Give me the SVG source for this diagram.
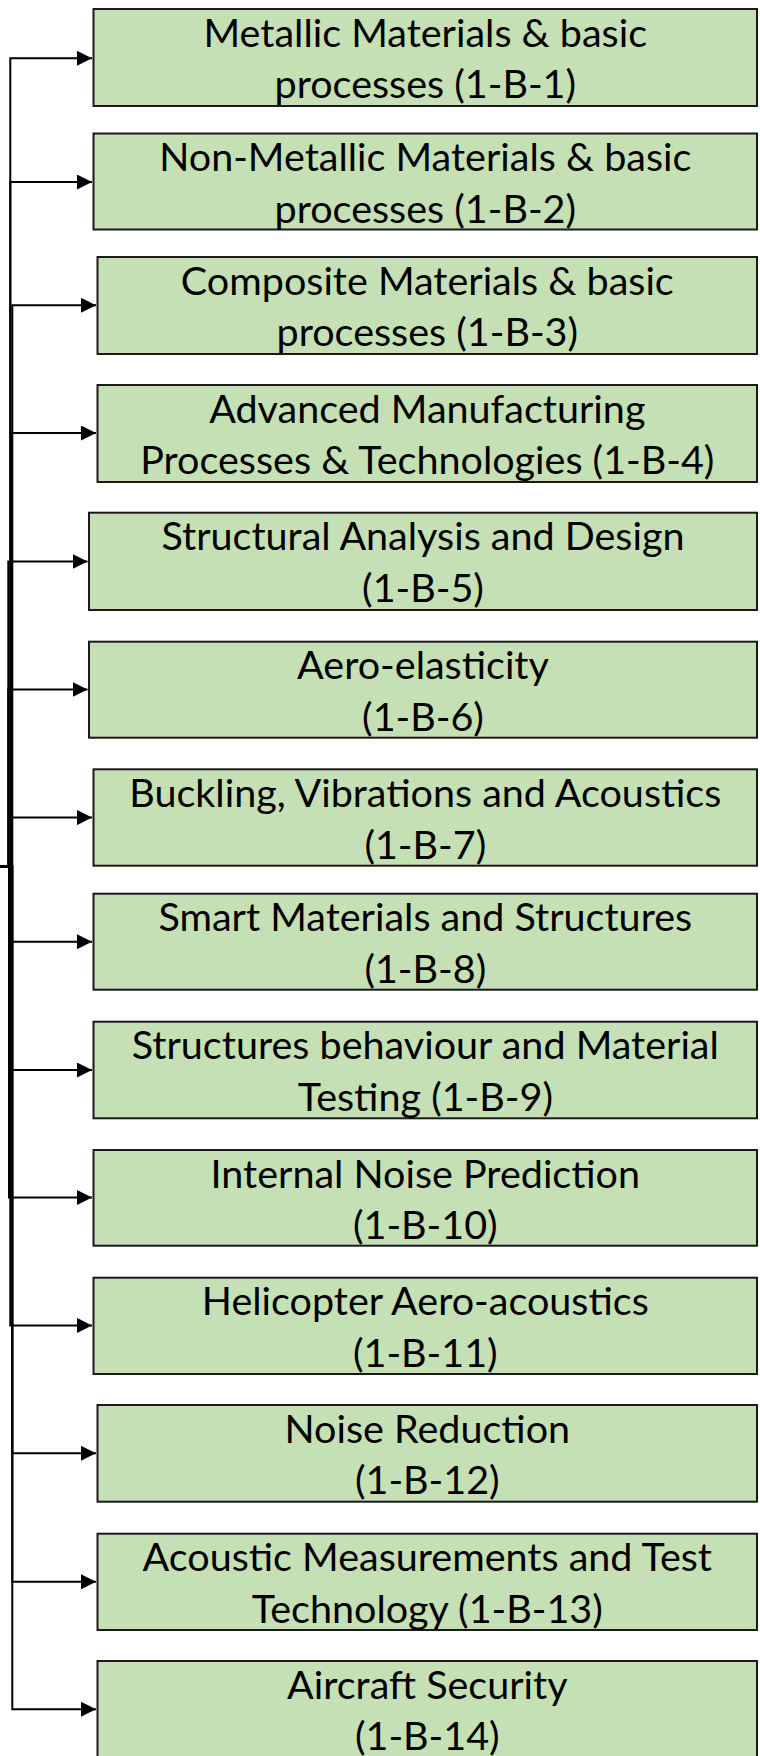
<svg xmlns="http://www.w3.org/2000/svg" width="760" height="1756" viewBox="0 0 760 1756">
  <style>
    .box rect { fill: #C5E0B4; stroke: #1a1a1a; stroke-width: 2; }
    .box text { font-family: Lato, "Liberation Sans", sans-serif; font-size: 39.5px; fill: #000; text-anchor: middle; }
    .conn path { fill: none; stroke: #000; stroke-width: 2; marker-end: url(#arrow); }
  </style>
  <defs>
    <marker id="arrow" markerUnits="userSpaceOnUse" markerWidth="15" markerHeight="15" refX="15" refY="7.5" orient="auto">
      <path d="M0,0 L15,7.5 L0,15 Z" fill="#000"/>
    </marker>
  </defs>

  <rect width="760" height="1756" fill="#fff"/>

  <!-- elbow connectors from the parent (off to the left) to each topic box -->
  <g id="connectors" class="conn">
    <path d="M0,866.7 H10.3 V58.3 H92"/>
    <path d="M0,866.7 H10.3 V182 H92"/>
    <path d="M0,866.7 H12.3 V305.3 H96"/>
    <path d="M0,866.7 H11.5 V433 H96"/>
    <path d="M0,866.7 H8.3 V561.5 H87.5"/>
    <path d="M0,866.7 H8.3 V689.5 H87.5"/>
    <path d="M0,866.7 H11 V817.6 H92"/>
    <path d="M0,866.7 H11.5 V941.7 H92"/>
    <path d="M0,866.7 H11 V1070 H92"/>
    <path d="M0,866.7 H9 V1197.5 H92"/>
    <path d="M0,866.7 H10.3 V1325.4 H92"/>
    <path d="M0,866.7 H12.3 V1453.3 H96"/>
    <path d="M0,866.7 H12.3 V1581.8 H96"/>
    <path d="M0,866.7 H12.3 V1709.2 H96"/>
  </g>

  <g id="node-1-B-1" class="box">
    <rect x="93.5" y="9" width="663.5" height="97"/>
    <text x="425.3" y="46.7">Metallic Materials &amp; basic</text>
    <text x="425.3" y="98.2">processes (1-B-1)</text>
  </g>
  <g id="node-1-B-2" class="box">
    <rect x="93.5" y="133.5" width="663.5" height="96"/>
    <text x="425.3" y="171.4">Non-Metallic Materials &amp; basic</text>
    <text x="425.3" y="222.9">processes (1-B-2)</text>
  </g>
  <g id="node-1-B-3" class="box">
    <rect x="97.5" y="257" width="659.5" height="97"/>
    <text x="427.3" y="294.7">Composite Materials &amp; basic</text>
    <text x="427.3" y="346.2">processes (1-B-3)</text>
  </g>
  <g id="node-1-B-4" class="box">
    <rect x="97.5" y="385" width="659.5" height="97"/>
    <text x="427.3" y="422.7">Advanced Manufacturing</text>
    <text x="427.3" y="474.2">Processes &amp; Technologies (1-B-4)</text>
  </g>
  <g id="node-1-B-5" class="box">
    <rect x="89" y="512.7" width="668" height="97.3"/>
    <text x="423" y="550.4">Structural Analysis and Design</text>
    <text x="423" y="601.9">(1-B-5)</text>
  </g>
  <g id="node-1-B-6" class="box">
    <rect x="89" y="641.7" width="668" height="96"/>
    <text x="423" y="679.4">Aero-elasticity</text>
    <text x="423" y="730.9">(1-B-6)</text>
  </g>
  <g id="node-1-B-7" class="box">
    <rect x="93.5" y="769.3" width="663.5" height="96.4"/>
    <text x="425.3" y="807">Buckling, Vibrations and Acoustics</text>
    <text x="425.3" y="858.5">(1-B-7)</text>
  </g>
  <g id="node-1-B-8" class="box">
    <rect x="93.5" y="893.7" width="663.5" height="96"/>
    <text x="425.3" y="931.4">Smart Materials and Structures</text>
    <text x="425.3" y="982.9">(1-B-8)</text>
  </g>
  <g id="node-1-B-9" class="box">
    <rect x="93.5" y="1021.7" width="663.5" height="96.6"/>
    <text x="425.3" y="1059.4">Structures behaviour and Material</text>
    <text x="425.3" y="1110.9">Testing (1-B-9)</text>
  </g>
  <g id="node-1-B-10" class="box">
    <rect x="93.5" y="1150" width="663.5" height="95.7"/>
    <text x="425.3" y="1187.7">Internal Noise Prediction</text>
    <text x="425.3" y="1239.2">(1-B-10)</text>
  </g>
  <g id="node-1-B-11" class="box">
    <rect x="93.5" y="1277.7" width="663.5" height="96.3"/>
    <text x="425.3" y="1315.4">Helicopter Aero-acoustics</text>
    <text x="425.3" y="1366.9">(1-B-11)</text>
  </g>
  <g id="node-1-B-12" class="box">
    <rect x="97.5" y="1405" width="659.5" height="96.7"/>
    <text x="427.3" y="1442.7">Noise Reduction</text>
    <text x="427.3" y="1494.2">(1-B-12)</text>
  </g>
  <g id="node-1-B-13" class="box">
    <rect x="97.5" y="1533.7" width="659.5" height="96.3"/>
    <text x="427.3" y="1571.4">Acoustic Measurements and Test</text>
    <text x="427.3" y="1622.9">Technology (1-B-13)</text>
  </g>
  <g id="node-1-B-14" class="box">
    <rect x="97.5" y="1661" width="659.5" height="97"/>
    <text x="427.3" y="1698.7">Aircraft Security</text>
    <text x="427.3" y="1750.2">(1-B-14)</text>
  </g>
</svg>
